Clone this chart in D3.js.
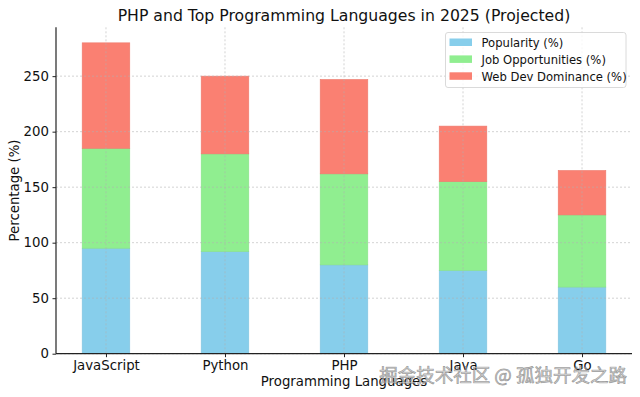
<!DOCTYPE html>
<html>
<head>
<meta charset="utf-8">
<script src="https://cdn.jsdelivr.net/npm/d3@7"></script>
<style>
	body { margin: 0; background: #fff; }
	svg { display: block; font-family: "DejaVu Sans", sans-serif; }
</style>
</head>
<body>
<div id="main"></div>
<script>
const languages = ["JavaScript", "Python", "PHP", "Java", "Go"];
const popularity = [95, 92, 80, 75, 60];
const jobOpportunities = [90, 88, 82, 80, 65];
const webDevDominance = [95, 70, 85, 50, 40];
const seriesNames = ["Popularity (%)", "Job Opportunities (%)", "Web Dev Dominance (%)"];
const seriesColors = ["#87ceeb", "#90ee90", "#fa8072"];
const yTicks = [0, 50, 100, 150, 200, 250];

const width = 640,
	height = 397;
const margin = { left: 56, right: 8, top: 27.3, bottom: 43.3 };
const cwidth = width - margin.left - margin.right;
const cheight = height - margin.top - margin.bottom;

const rows = languages.map((lang, i) => ({
	lang: lang,
	s0: popularity[i],
	s1: jobOpportunities[i],
	s2: webDevDominance[i],
}));
const stacked = d3.stack().keys(["s0", "s1", "s2"])(rows);
const maxTotal = d3.max(rows, (d) => d.s0 + d.s1 + d.s2);

// matplotlib-like margins: bars of width 0.4, 5% padding
const barW = 0.4;
const xSpan = languages.length - 1 + barW;
const xPad = xSpan * 0.05;
const x = d3
	.scaleLinear()
	.domain([-barW / 2 - xPad, languages.length - 1 + barW / 2 + xPad])
	.range([0, cwidth]);
const y = d3
	.scaleLinear()
	.domain([0, maxTotal * 1.05])
	.range([cheight, 0]);

const svg = d3
	.select("#main")
	.append("svg")
	.attr("width", width)
	.attr("height", height);

const guts = svg
	.append("g")
	.attr("transform", `translate(${margin.left},${margin.top})`);

// bars
stacked.forEach((layer, k) => {
	guts
		.append("g")
		.selectAll("rect")
		.data(layer)
		.enter()
		.append("rect")
		.attr("x", (d, i) => x(i - barW / 2))
		.attr("width", x(barW) - x(0))
		.attr("y", (d) => y(d[1]))
		.attr("height", (d) => y(d[0]) - y(d[1]))
		.style("fill", seriesColors[k])
		.style("stroke", d3.color(seriesColors[k]).darker(0.15))
		.style("stroke-width", 0.6);
});

// grid (drawn over bars, faint)
const grid = guts.append("g").attr("class", "grid");
grid
	.selectAll("line.h")
	.data(yTicks)
	.enter()
	.append("line")
	.attr("x1", 0)
	.attr("x2", cwidth)
	.attr("y1", (d) => y(d))
	.attr("y2", (d) => y(d))
	.style("stroke", "#b0b0b0")
	.style("stroke-opacity", 0.7)
	.style("stroke-width", 0.8)
	.style("stroke-dasharray", "2,2");
grid
	.selectAll("line.v")
	.data(languages)
	.enter()
	.append("line")
	.attr("x1", (d, i) => x(i))
	.attr("x2", (d, i) => x(i))
	.attr("y1", 0)
	.attr("y2", cheight)
	.style("stroke", "#b0b0b0")
	.style("stroke-opacity", 0.7)
	.style("stroke-width", 0.8)
	.style("stroke-dasharray", "2,2");

// axes
const yAxis = guts
	.append("g")
	.call(d3.axisLeft(y).tickValues(yTicks).tickSize(3.5).tickPadding(3.5));
const xAxis = guts
	.append("g")
	.attr("transform", `translate(0,${cheight})`)
	.call(
		d3
			.axisBottom(x)
			.tickValues(d3.range(languages.length))
			.tickFormat((d) => languages[d])
			.tickSize(3.5)
			.tickPadding(3)
	);
[xAxis, yAxis].forEach((a) => {
	a.selectAll("path.domain").style("stroke", "#222").style("stroke-width", 1.2);
	a.selectAll(".tick line").style("stroke", "#222");
	a.selectAll("text")
		.style("font-family", "DejaVu Sans")
		.style("font-size", "13.3px")
		.style("fill", "#111");
});
xAxis.select("path.domain").attr("d", `M0,0H${cwidth}`);
yAxis.select("path.domain").attr("d", `M0,${cheight}V0`);

// title and labels
svg
	.append("text")
	.attr("x", margin.left + cwidth / 2)
	.attr("y", 21)
	.attr("text-anchor", "middle")
	.style("font-size", "15.7px")
	.style("fill", "#111")
	.text("PHP and Top Programming Languages in 2025 (Projected)");
svg
	.append("text")
	.attr("x", margin.left + cwidth / 2)
	.attr("y", 386)
	.attr("text-anchor", "middle")
	.style("font-size", "13.3px")
	.style("fill", "#111")
	.text("Programming Languages");
svg
	.append("text")
	.attr("transform", `translate(18.5,${margin.top + cheight / 2}) rotate(-90)`)
	.attr("text-anchor", "middle")
	.style("font-size", "13.3px")
	.style("fill", "#111")
	.text("Percentage (%)");

// legend
const legend = svg.append("g").attr("transform", "translate(445.5,32.5)");
legend
	.append("rect")
	.attr("width", 180.5)
	.attr("height", 55)
	.attr("rx", 2.5)
	.style("fill", "rgba(255,255,255,0.8)")
	.style("stroke", "#d0d0d0")
	.style("stroke-width", 0.8);
const entries = legend
	.selectAll("g.entry")
	.data(seriesNames)
	.enter()
	.append("g")
	.attr("class", "entry")
	.attr("transform", (d, i) => `translate(4,${6 + i * 16.9})`);
entries
	.append("rect")
	.attr("width", 22.5)
	.attr("height", 7.5)
	.style("fill", (d, i) => seriesColors[i]);
entries
	.append("text")
	.attr("x", 32)
	.attr("y", 8.2)
	.style("font-size", "11.6px")
	.style("fill", "#111")
	.text((d) => d);

// watermark
svg
	.append("text")
	.attr("x", 627)
	.attr("y", 381.5)
	.attr("text-anchor", "end")
	.style("font-family", "Noto Sans CJK SC")
	.style("font-size", "18.5px")
	.style("fill", "rgba(200,200,200,0.75)")
	.style("stroke", "rgba(90,90,90,0.55)")
	.style("stroke-width", 0.7)
	.text("掘金技术社区 @ 孤独开发之路");
</script>
</body>
</html>
